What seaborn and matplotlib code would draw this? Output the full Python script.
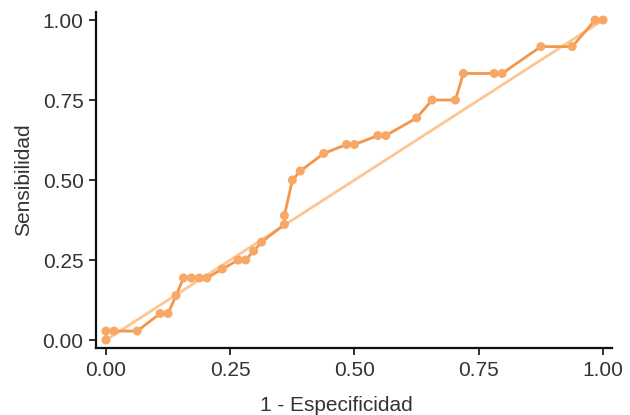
import matplotlib
matplotlib.use("Agg")
import matplotlib.pyplot as plt
import seaborn as sns
import pandas as pd

# ROC curve points: false positive rate (1 - specificity) and true positive rate
fpr = [0.000, 0.000, 0.016, 0.063, 0.109, 0.125, 0.141, 0.156, 0.172, 0.188,
       0.203, 0.234, 0.266, 0.281, 0.297, 0.313, 0.359, 0.359, 0.375, 0.391,
       0.438, 0.484, 0.500, 0.547, 0.563, 0.625, 0.656, 0.703, 0.719, 0.781,
       0.797, 0.875, 0.938, 0.984, 1.000]
tpr = [0.000, 0.028, 0.028, 0.028, 0.083, 0.083, 0.139, 0.194, 0.194, 0.194,
       0.194, 0.222, 0.250, 0.250, 0.278, 0.306, 0.361, 0.389, 0.500, 0.528,
       0.583, 0.611, 0.611, 0.639, 0.639, 0.694, 0.750, 0.750, 0.833, 0.833,
       0.833, 0.917, 0.917, 1.000, 1.000]

# chance reference line
ref_x = [0.0, 1.0]
ref_y = [0.0, 1.0]

x_ticks = [0.00, 0.25, 0.50, 0.75, 1.00]
y_ticks = [0.00, 0.25, 0.50, 0.75, 1.00]

roc = pd.DataFrame({"fpr": fpr, "tpr": tpr, "step": range(len(fpr))})
ref = pd.DataFrame({"fpr": ref_x, "tpr": ref_y})

sns.set_theme(style="ticks")
plt.rcParams["font.family"] = ["Liberation Sans", "DejaVu Sans"]

fig = plt.figure(figsize=(6.3, 4.15), dpi=100)
ax = fig.add_axes([0.1524, 0.1614, 0.819, 0.8096])

sns.lineplot(data=ref, x="fpr", y="tpr", ax=ax, color="#FDC591",
             linewidth=2.0, sort=False, zorder=1)
sns.lineplot(data=roc, x="fpr", y="tpr", ax=ax, color="#F4964A",
             linewidth=2.0, sort=False, estimator=None, zorder=2)
sns.scatterplot(data=roc, x="fpr", y="tpr", ax=ax, color="#F7A866",
                s=42, edgecolor="none", zorder=3)

ax.set_xlim(-0.02, 1.018)
ax.set_ylim(-0.025, 1.025)
ax.set_xticks(x_ticks)
ax.set_yticks(y_ticks)
ax.set_xticklabels([f"{v:.2f}" for v in x_ticks])
ax.set_yticklabels([f"{v:.2f}" for v in y_ticks])
ax.tick_params(labelsize=15, colors="#222222", length=5, width=1.3,
               labelcolor="#333333", pad=4)
for side in ("left", "bottom"):
    ax.spines[side].set_linewidth(1.6)
    ax.spines[side].set_color("#111111")
sns.despine(ax=ax)

ax.set_xlabel("1 - Especificidad", fontsize=15, color="#333333")
ax.set_ylabel("Sensibilidad", fontsize=15, color="#333333", labelpad=7)
ax.xaxis.set_label_coords(0.465, -0.143)

fig.savefig("out.png", dpi=100)
